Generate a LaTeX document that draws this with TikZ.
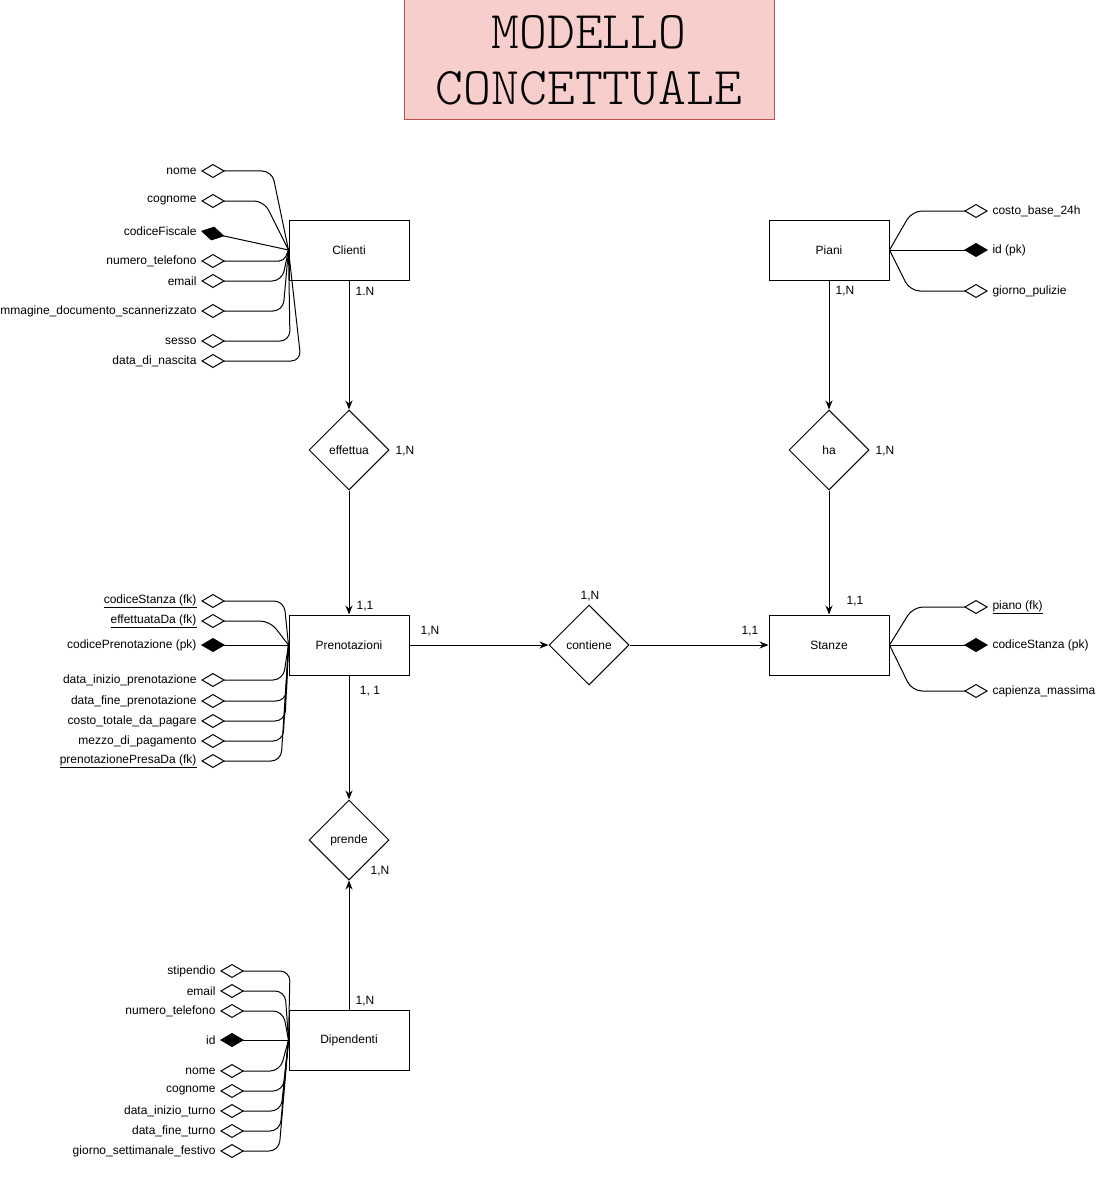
\documentclass[tikz,border=0pt]{standalone}
\usepackage{fontspec}
\setmainfont{Liberation Sans}
\newfontfamily\titlefont{Latin Modern Mono Light}
\usetikzlibrary{arrows.meta, shapes.geometric}
\definecolor{erpink}{HTML}{F8CECC}
\definecolor{erred}{HTML}{B85450}

\begin{document}
\begin{tikzpicture}[
  x=1pt, y=-1pt,
  line width=1pt,
  every node/.style={font=\fontsize{12}{14}\selectfont},
  titlenode/.style={rectangle, draw=erred, fill=erpink, minimum width=370pt, minimum height=120pt, align=center, font=\titlefont\fontsize{53}{56}\selectfont},
  entnode/.style={rectangle, draw, fill=white, minimum width=120pt, minimum height=60pt},
  relnode/.style={diamond, draw, fill=white, minimum width=80pt, minimum height=80pt, inner sep=0pt},
  attrL/.style={anchor=east, inner sep=4pt},
  attrR/.style={anchor=west, inner sep=4pt},
  cardnode/.style={inner sep=1pt},
  relarrow/.style={-{Stealth[length=9pt,width=7pt]}},
  attrline/.style={-{Diamond[open,length=24pt,width=14pt]}, rounded corners=10pt},
  keyline/.style={-{Diamond[length=24pt,width=14pt]}},
]
\useasboundingbox (0,0) rectangle (1101,1177);
\fill[white] (0,0) rectangle (1101,1177);

\node[titlenode] (title) at (589,60) {MODELLO\\CONCETTUALE};

% entita
\node[entnode] (Clienti) at (349,250) {Clienti};
\node[entnode] (Piani) at (829,250) {Piani};
\node[entnode] (Prenotazioni) at (349,645) {Prenotazioni};
\node[entnode] (Stanze) at (829,645) {Stanze};
\node[entnode] (Dipendenti) at (349,1040) {Dipendenti};

% relazioni
\node[relnode] (effettua) at (349,450) {effettua};
\node[relnode] (ha) at (829,450) {ha};
\node[relnode] (contiene) at (589,645) {contiene};
\node[relnode] (prende) at (349,840) {prende};

\draw[relarrow] (Clienti) -- (effettua);
\draw[relarrow] (effettua) -- (Prenotazioni);
\draw[relarrow] (Piani) -- (ha);
\draw[relarrow] (ha) -- (Stanze);
\draw[relarrow] (Prenotazioni) -- (contiene);
\draw[relarrow] (contiene) -- (Stanze);
\draw[relarrow] (Prenotazioni) -- (prende);
\draw[relarrow] (Dipendenti) -- (prende);

% cardinalita
\node[cardnode] (cardCl) at (365,291) {1.N};
\node[cardnode] (cardEff) at (405,451) {1,N};
\node[cardnode] (cardPrTop) at (365,606) {1,1};
\node[cardnode] (cardPrRight) at (430,631) {1,N};
\node[cardnode] (cardCont) at (590,596) {1,N};
\node[cardnode] (cardStLeft) at (750,631) {1,1};
\node[cardnode] (cardPrBottom) at (370,691) {1, 1};
\node[cardnode] (cardPrende) at (380,871) {1,N};
\node[cardnode] (cardDip) at (365,1001) {1,N};
\node[cardnode] (cardPi) at (845,291) {1,N};
\node[cardnode] (cardHa) at (885,451) {1,N};
\node[cardnode] (cardStTop) at (855,601) {1,1};

% attributi Clienti
\node[attrL] (clNome) at (201,171) {nome};
\node[attrL] (clCognome) at (201,201) {cognome};
\node[attrL] (clCodice) at (201,231) {codiceFiscale};
\node[attrL] (clTelefono) at (201,261) {numero\_telefono};
\node[attrL] (clEmail) at (201,281) {email};
\node[attrL] (clImmagine) at (201,311) {immagine\_documento\_scannerizzato};
\node[attrL] (clSesso) at (201,341) {sesso};
\node[attrL] (clNascita) at (201,361) {data\_di\_nascita};
\draw[attrline] (Clienti.west) -- (272,171) -- (clNome.east);
\draw[attrline] (Clienti.west) -- (264,201) -- (clCognome.east);
\draw[keyline] (Clienti.west) -- (clCodice.east);
\draw[attrline, rounded corners=5pt] (Clienti.west) -- (284,261) -- (clTelefono.east);
\draw[attrline] (Clienti.west) -- (282,281) -- (clEmail.east);
\draw[attrline] (Clienti.west) -- (283,311) -- (clImmagine.east);
\draw[attrline] (Clienti.west) -- (290,341) -- (clSesso.east);
\draw[attrline] (Clienti.west) -- (301,361) -- (clNascita.east);

% attributi Prenotazioni
\node[attrL] (prStanza) at (201,601) {\underline{codiceStanza (fk)}};
\node[attrL] (prEffettuata) at (201,621) {\underline{effettuataDa (fk)}};
\node[attrL] (prCodice) at (201,645) {codicePrenotazione (pk)};
\node[attrL] (prInizio) at (201,680) {data\_inizio\_prenotazione};
\node[attrL] (prFine) at (201,701) {data\_fine\_prenotazione};
\node[attrL] (prCosto) at (201,721) {costo\_totale\_da\_pagare};
\node[attrL] (prMezzo) at (201,741) {mezzo\_di\_pagamento};
\node[attrL] (prPresa) at (201,761) {\underline{prenotazionePresaDa (fk)}};
\draw[attrline] (Prenotazioni.west) -- (284,601) -- (prStanza.east);
\draw[attrline] (Prenotazioni.west) -- (270,621) -- (prEffettuata.east);
\draw[keyline] (Prenotazioni.west) -- (prCodice.east);
\draw[attrline] (Prenotazioni.west) -- (283,680) -- (prInizio.east);
\draw[attrline] (Prenotazioni.west) -- (286,701) -- (prFine.east);
\draw[attrline] (Prenotazioni.west) -- (285,721) -- (prCosto.east);
\draw[attrline] (Prenotazioni.west) -- (283,741) -- (prMezzo.east);
\draw[attrline] (Prenotazioni.west) -- (281,761) -- (prPresa.east);

% attributi Dipendenti
\node[attrL] (diStipendio) at (220,971) {stipendio};
\node[attrL] (diEmail) at (220,991) {email};
\node[attrL] (diTelefono) at (220,1011) {numero\_telefono};
\node[attrL] (diId) at (220,1040) {id};
\node[attrL] (diNome) at (220,1071) {nome};
\node[attrL] (diCognome) at (220,1091) {cognome};
\node[attrL] (diInizio) at (220,1111) {data\_inizio\_turno};
\node[attrL] (diFine) at (220,1131) {data\_fine\_turno};
\node[attrL] (diFestivo) at (220,1151) {giorno\_settimanale\_festivo};
\draw[attrline] (Dipendenti.west) -- (290,971) -- (diStipendio.east);
\draw[attrline] (Dipendenti.west) -- (285,991) -- (diEmail.east);
\draw[attrline] (Dipendenti.west) -- (283,1011) -- (diTelefono.east);
\draw[keyline] (Dipendenti.west) -- (diId.east);
\draw[attrline] (Dipendenti.west) -- (280,1071) -- (diNome.east);
\draw[attrline] (Dipendenti.west) -- (283,1091) -- (diCognome.east);
\draw[attrline] (Dipendenti.west) -- (281,1111) -- (diInizio.east);
\draw[attrline] (Dipendenti.west) -- (280,1131) -- (diFine.east);
\draw[attrline] (Dipendenti.west) -- (279,1151) -- (diFestivo.east);

% attributi Piani
\node[attrR] (piCosto) at (988,211) {costo\_base\_24h};
\node[attrR] (piId) at (988,250) {id (pk)};
\node[attrR] (piPulizie) at (988,291) {giorno\_pulizie};
\draw[attrline] (Piani.east) -- (912,211) -- (piCosto.west);
\draw[keyline] (Piani.east) -- (piId.west);
\draw[attrline] (Piani.east) -- (910,291) -- (piPulizie.west);

% attributi Stanze
\node[attrR] (stPiano) at (988,607) {\underline{piano (fk)}};
\node[attrR] (stCodice) at (988,645) {codiceStanza (pk)};
\node[attrR] (stCapienza) at (988,691) {capienza\_massima};
\draw[attrline] (Stanze.east) -- (913,607) -- (stPiano.west);
\draw[keyline] (Stanze.east) -- (stCodice.west);
\draw[attrline] (Stanze.east) -- (912,691) -- (stCapienza.west);
\end{tikzpicture}
\end{document}
